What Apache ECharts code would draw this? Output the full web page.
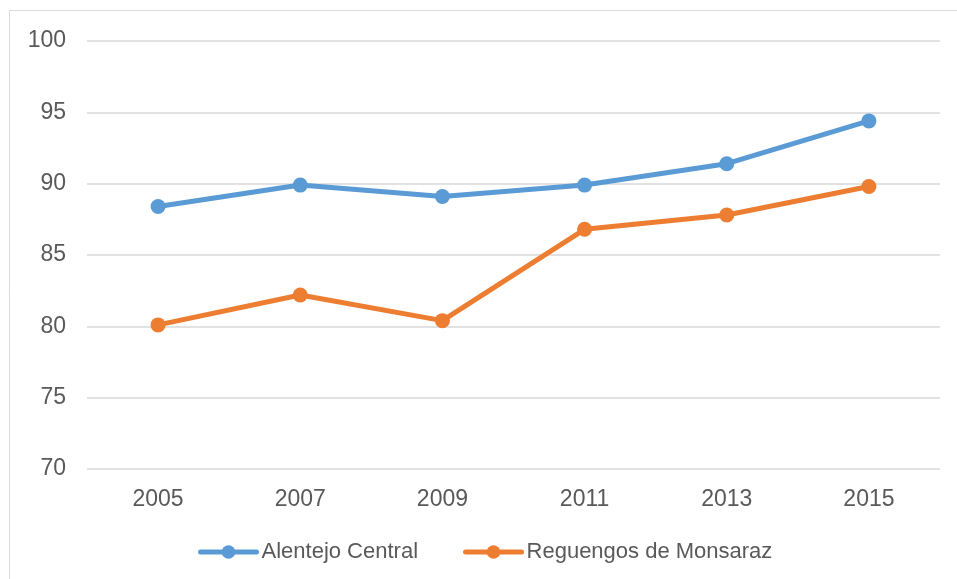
<!DOCTYPE html>
<html>
<head>
<meta charset="utf-8">
<script src="https://cdn.jsdelivr.net/npm/echarts@6/dist/echarts.min.js"></script>
<style>
  html, body { margin: 0; padding: 0; background: #fff; }
  #chart { width: 957px; height: 579px; }
</style>
</head>
<body>
<div id="chart"></div>
<script>
// Years on the category axis
const years = ['2005', '2007', '2009', '2011', '2013', '2015'];
// Index values per region
const alentejoCentral = [88.4, 89.9, 89.1, 89.9, 91.4, 94.4];
const reguengosMonsaraz = [80.1, 82.2, 80.4, 86.8, 87.8, 89.8];
const seriesNames = ['Alentejo Central', 'Reguengos de Monsaraz'];

const textColor = '#595959';
const font = 'Liberation Sans, Arial, sans-serif';

const chart = echarts.init(document.getElementById('chart'), null, { renderer: 'canvas' });

function lineSeries(name, data, color) {
  return {
    name: name,
    type: 'line',
    data: data,
    symbol: 'circle',
    symbolSize: 15,
    lineStyle: { width: 5, color: color, cap: 'round', join: 'round' },
    itemStyle: { color: color },
    emphasis: { disabled: true },
    animation: false
  };
}

chart.setOption({
  animation: false,
  graphic: [{
    type: 'rect',
    shape: { x: 9.5, y: 10.5, width: 1000, height: 1000 },
    style: { fill: 'none', stroke: '#d9d9d9', lineWidth: 1 },
    silent: true,
    z: -1
  }],
  grid: { left: 87, right: 17, top: 41, bottom: 110, containLabel: false },
  legend: {
    data: seriesNames,
    left: 193,
    top: 536,
    itemWidth: 56,
    itemHeight: 17,
    itemGap: 45,
    lineStyle: { width: 5, cap: 'round' },
    textStyle: { color: textColor, fontSize: 22, fontFamily: font }
  },
  xAxis: {
    type: 'category',
    data: years,
    boundaryGap: true,
    axisLine: { show: false },
    axisTick: { show: false },
    axisLabel: { color: textColor, fontSize: 23, fontFamily: font, margin: 19 }
  },
  yAxis: {
    type: 'value',
    min: 70,
    max: 100,
    interval: 5,
    axisLine: { show: false },
    axisTick: { show: false },
    axisLabel: { color: textColor, fontSize: 23, fontFamily: font, margin: 21 },
    splitLine: { lineStyle: { color: '#d9d9d9', width: 1.5 } }
  },
  series: [
    lineSeries(seriesNames[0], alentejoCentral, '#5b9bd5'),
    lineSeries(seriesNames[1], reguengosMonsaraz, '#ed7d31')
  ]
});
</script>
</body>
</html>
